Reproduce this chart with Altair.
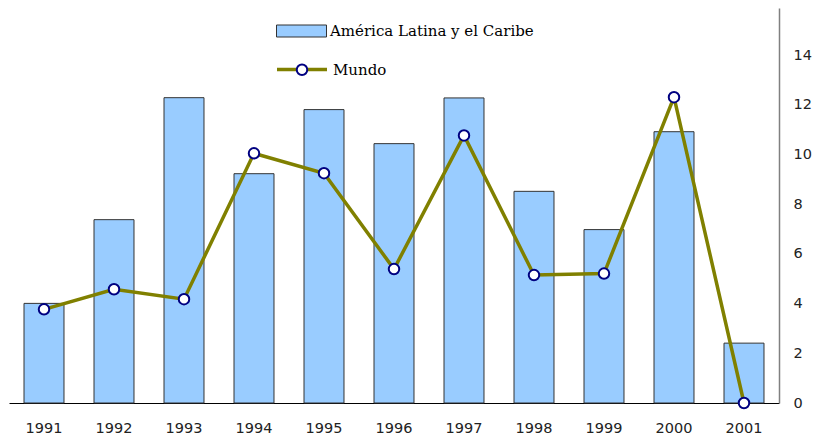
import altair as alt
import pandas as pd

years = ["1991", "1992", "1993", "1994", "1995", "1996", "1997", "1998", "1999", "2000", "2001"]
latam = [4.01, 7.38, 12.29, 9.23, 11.81, 10.44, 12.28, 8.52, 6.98, 10.92, 2.41]
mundo = [3.77, 4.58, 4.18, 10.05, 9.25, 5.39, 10.77, 5.15, 5.21, 12.31, 0.0]
y_ticks = [0, 2, 4, 6, 8, 10, 12, 14]
series_bar = "América Latina y el Caribe"
series_line = "Mundo"

df = pd.DataFrame({"year": years, "latam": latam, "mundo": mundo})
df["s1"] = series_bar
df["s2"] = series_line
df["s3"] = series_line

label_font = "DejaVu Sans"
legend_font = "DejaVu Serif"

x = alt.X(
    "year:N", sort=years, title=None,
    scale=alt.Scale(paddingInner=0.4286, paddingOuter=0.2143),
    axis=alt.Axis(labelAngle=0, ticks=False, domainColor="#000000", domainWidth=1,
                  labelFont=label_font, labelFontSize=14.5, labelColor="#222222",
                  labelPadding=18, grid=False),
)
yscale = alt.Scale(domain=[0, 15.9], nice=False, zero=True)
yaxis = alt.Axis(orient="right", values=y_ticks, ticks=False, grid=False,
                 domainColor="#808080", domainWidth=1.5,
                 labelFont=label_font, labelFontSize=14.5, labelColor="#222222",
                 labelPadding=14)

bars = alt.Chart(df).mark_bar(stroke="#333333", strokeWidth=1).encode(
    x=x,
    y=alt.Y("latam:Q", scale=yscale, title=None, axis=yaxis),
    fill=alt.Fill("s1:N", title=None, scale=alt.Scale(range=["#99CCFF"]),
                  legend=alt.Legend(orient="none", legendX=267, legendY=-2.5,
                                    symbolType="M-1,-0.24H1V0.24H-1Z", symbolSize=2500,
                                    symbolStrokeColor="#333333", symbolStrokeWidth=1,
                                    labelFont=legend_font, labelFontSize=15, labelLimit=400,
                                    labelColor="#000000", labelOffset=3)),
)

line = alt.Chart(df).mark_line(strokeWidth=3.5).encode(
    x=x,
    y=alt.Y("mundo:Q", scale=yscale, title=None, axis=yaxis),
    stroke=alt.Stroke("s2:N", title=None, scale=alt.Scale(range=["#808000"]),
                      legend=alt.Legend(orient="none", legendX=266, legendY=34.5,
                                        symbolType="M-1,0H1", symbolSize=2500,
                                        symbolStrokeWidth=3.5,
                                        labelFont=legend_font, labelFontSize=15, labelLimit=400,
                                        labelColor="#000000", labelOffset=4)),
)

points = alt.Chart(df).mark_point(shape="circle", fill="white", strokeWidth=2,
                                  size=110, opacity=1, fillOpacity=1).encode(
    x=x,
    y=alt.Y("mundo:Q", scale=yscale, title=None, axis=yaxis),
    stroke=alt.Stroke("s3:N", title=None, scale=alt.Scale(range=["#000080"]),
                      legend=alt.Legend(orient="none", legendX=285.5, legendY=54.25,
                                        symbolSize=110, symbolType="circle",
                                        symbolFillColor="white",
                                        symbolStrokeWidth=2,
                                        labelExpr="''",
                                        labelFont=legend_font, labelFontSize=15,
                                        labelOpacity=0, labelOffset=3)),
)

chart = alt.layer(bars, line, points).resolve_scale(stroke="independent").properties(
    width=770, height=395,
    autosize=alt.AutoSizeParams(type="none"),
    padding={"left": 1, "top": 0, "right": 33, "bottom": 34},
).configure_view(stroke=None)

chart.save("out.html", embed_options={"renderer": "svg", "actions": False})
